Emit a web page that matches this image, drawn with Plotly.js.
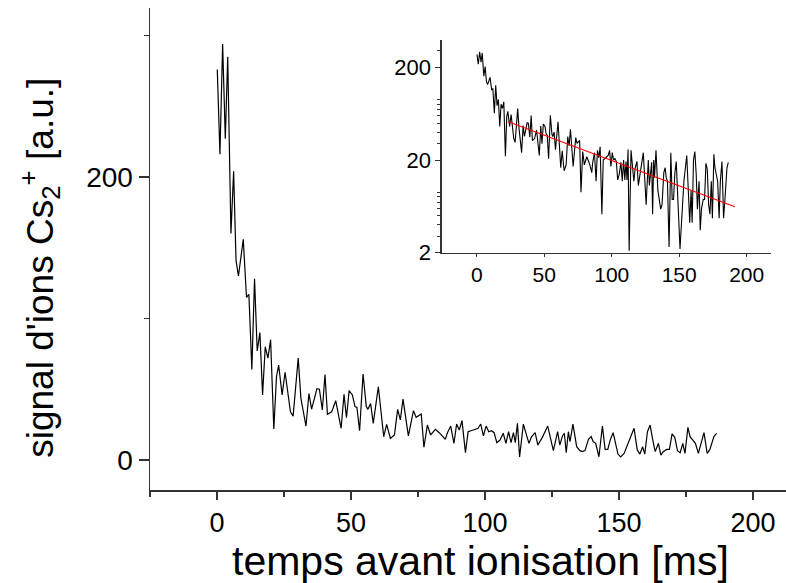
<!DOCTYPE html>
<html>
<head>
<meta charset="utf-8">
<script src="https://cdn.plot.ly/plotly-3.0.1.min.js"></script>
<style>html,body{margin:0;padding:0;background:#fff;}#chart{width:786px;height:583px;}</style>
</head>
<body>
<div id="chart"></div>
<script>
// time before ionisation [ms]
const timeMs = [0.1,1.1,2.1,3.1,4.0,5.2,6.2,7.1,8.0,9.8,11.0,11.9,13.0,14.0,15.0,16.0,17.0,18.0,19.0,20.0,
  21.2,22.2,23.0,24.3,25.4,27.4,28.4,30.3,31.3,33.2,34.3,35.3,37.3,38.2,39.3,40.3,41.2,42.8,44.3,46.3,
  47.4,48.3,49.3,50.5,51.5,52.2,53.2,54.5,55.7,56.3,57.3,58.3,60.2,62.2,63.3,64.7,66.2,67.4,68.4,69.4,
  71.4,73.3,74.3,76.2,77.2,78.5,79.7,81.5,82.9,83.8,85.2,85.9,87.2,88.4,89.4,90.4,91.4,92.7,93.7,95.6,
  97.4,98.4,99.4,100.4,101.4,102.4,103.4,104.4,105.6,106.8,107.8,108.8,109.7,110.6,111.3,112.1,112.9,114.3,115.3,116.4,
  117.4,118.7,119.7,121.4,123.4,125.5,127.1,127.9,128.9,129.6,130.3,131.1,131.7,132.8,134.2,135.4,136.3,137.3,138.6,139.6,
  140.4,141.3,142.5,143.8,144.8,145.8,146.8,147.8,149.6,150.6,151.9,153.5,155.6,156.8,157.8,158.8,159.6,160.6,161.6,162.6,
  163.5,164.7,165.6,166.5,167.8,168.8,169.8,170.8,171.8,172.8,173.8,174.6,175.7,176.5,177.5,178.5,179.6,180.5,181.7,182.9,
  183.9,185.4,186.4];
// Cs2+ ion signal [a.u.]
const ionSignal = [276,216,294,227,285,160,204,141,130,156,115,117,64,128,77,90,46,80,72,85,
  22,59,67,46,62,34,31,72,43.6,24,47,36,50.4,50,35.3,60.3,32.3,34.1,41.9,22.4,
  46.4,29.9,49,46,37.7,37.2,20.7,60.8,37.7,35.8,40,25.9,51.8,16.5,25.2,15.3,17.7,35.8,28.3,43,
  17,34.9,30.2,32.5,9,24.7,17.7,21.7,19.3,17.7,14.6,18.9,24,11.8,25.4,21.2,27.8,5.2,20,21.2,
  22.4,25.4,17,24,20,20.7,19.3,12.2,14.1,18.9,11.8,20,12.2,19.3,12.2,25.9,2.1,25.4,18.9,11.8,
  16.5,19.3,10.6,16,24,6.6,20,10.6,17,18.9,5.2,20,12.9,25.4,9.4,6.6,5.9,6.6,14.6,16.5,
  12.9,11.8,2.3,24,7.5,7.5,14.6,19.3,4.2,2.2,4.7,11.8,22.4,7.1,4.2,9.4,4.2,20,24.7,14.1,
  5.9,11.8,3.5,5.9,7.5,7.5,18.4,16,6.6,5.2,11.8,4.7,23.1,16.5,14.1,11.8,4.7,11.8,19.3,4.7,
  7.5,16.5,18.9];
// exponential fit shown in the log-scale inset (end points)
const fitTime = [23.4, 191.3];
const fitSignal = [51.8, 6.27];

// tick labels and titles
const mainXTicks = [0, 50, 100, 150, 200];
const mainYTicks = [0, 200];
const insetYTicks = [2, 20, 200];
const insetYTickText = ['2', '20', '200'];
const insetYMinor = [3,4,5,6,7,8,9,30,40,50,60,70,80,90,300];
const xTitle = 'temps avant ionisation [ms]';
const yTitle = "signal d'ions Cs<sub>2</sub><sup>+</sup> [a.u.]";

const FONT = 'Liberation Sans, Arial, sans-serif';
const AX = '#333333';

const traces = [
  {x: timeMs, y: ionSignal, type: 'scatter', mode: 'lines', line: {color: '#000', width: 1.2}, xaxis: 'x', yaxis: 'y', hoverinfo: 'skip'},
  {x: timeMs, y: ionSignal, type: 'scatter', mode: 'lines', line: {color: '#000', width: 1.1}, xaxis: 'x2', yaxis: 'y2', hoverinfo: 'skip'},
  {x: fitTime, y: fitSignal, type: 'scatter', mode: 'lines', line: {color: '#ff0000', width: 1.1}, xaxis: 'x2', yaxis: 'y2', hoverinfo: 'skip'}
];

const layout = {
  width: 786, height: 583,
  margin: {l: 150, r: 0, t: 8, b: 93},
  paper_bgcolor: '#fff', plot_bgcolor: 'rgba(0,0,0,0)',
  showlegend: false,
  font: {family: FONT, color: '#000'},
  xaxis: {
    domain: [0, 1], range: [-25, 212.3],
    showline: true, linecolor: AX, linewidth: 1.5, mirror: false,
    ticks: 'outside', ticklen: 8, tickwidth: 1.5, tickcolor: AX,
    tickmode: 'array', tickvals: mainXTicks,
    minor: {dtick: 25, tick0: 0, ticks: 'outside', ticklen: 5, tickwidth: 1.5, tickcolor: AX, showgrid: false},
    showgrid: false, zeroline: false,
    tickfont: {size: 27, family: FONT}
  },
  yaxis: {
    domain: [0, 1], range: [-21.2, 319.4],
    showline: true, linecolor: AX, linewidth: 1.5,
    ticks: 'outside', ticklen: 10, tickwidth: 1.5, tickcolor: AX,
    tickmode: 'array', tickvals: mainYTicks,
    minor: {dtick: 100, tick0: 0, ticks: 'outside', ticklen: 5, tickwidth: 1.5, tickcolor: AX, showgrid: false},
    showgrid: false, zeroline: false,
    tickfont: {size: 28, family: FONT}
  },
  xaxis2: {
    anchor: 'y2', domain: [0.4587, 0.9759], range: [-26, 217.8],
    showline: true, linecolor: AX, linewidth: 1.3,
    ticks: 'outside', ticklen: 3, tickwidth: 1, tickcolor: AX,
    tickmode: 'array', tickvals: mainXTicks,
    showgrid: false, zeroline: false,
    tickfont: {size: 21, family: FONT}
  },
  yaxis2: {
    anchor: 'x2', domain: [0.4923, 0.9336], type: 'log', range: [Math.log10(2), Math.log10(394)],
    showline: true, linecolor: AX, linewidth: 1.3,
    ticks: 'outside', ticklen: 5, tickwidth: 1, tickcolor: AX,
    tickmode: 'array', tickvals: insetYTicks, ticktext: insetYTickText,
    minor: {tickmode: 'array', tickvals: insetYMinor, ticks: 'outside', ticklen: 3, tickwidth: 1, tickcolor: AX, showgrid: false},
    showgrid: false, zeroline: false,
    tickfont: {size: 22, family: FONT}
  },
  annotations: [
    {text: xTitle, xref: 'paper', yref: 'paper', x: 0.5204, y: -0.1473, xanchor: 'center', yanchor: 'middle',
     showarrow: false, font: {size: 41, family: FONT, color: '#000'}},
    {text: yTitle, xref: 'paper', yref: 'paper', x: -0.173, y: 0.461, xanchor: 'center', yanchor: 'middle',
     textangle: -90, showarrow: false, font: {size: 37, family: FONT, color: '#000'}}
  ]
};

Plotly.newPlot('chart', traces, layout, {staticPlot: true, displayModeBar: false});
</script>
</body>
</html>
